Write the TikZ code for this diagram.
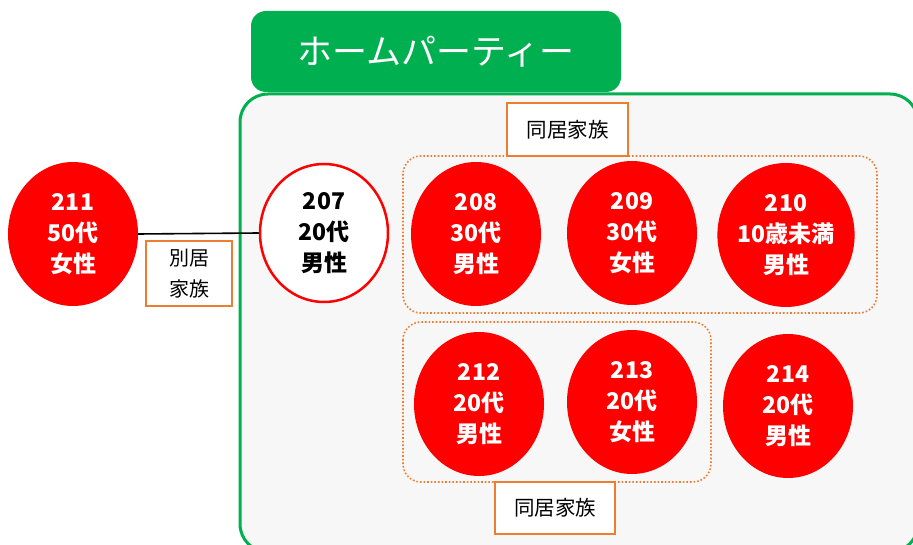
\documentclass[tikz,border=0pt]{standalone}
\usepackage{fontspec}
\setmainfont{Noto Sans CJK JP}
\usetikzlibrary{shapes.geometric}
\begin{document}
\begin{tikzpicture}[x=1pt,y=-1pt,
  pgreen/.style={draw=grn,line width=3pt,fill=panel,rounded corners=28pt},
  person/.style={ellipse,fill=pred,minimum width=130pt,minimum height=144pt,inner sep=0pt,
    text=white,font=\bfseries\fontsize{23}{31}\selectfont,align=center},
  fambox/.style={draw=org,line width=1.3pt,fill=white,inner sep=0pt,
    font=\fontsize{20.5}{28}\selectfont,align=center},
  famgroup/.style={draw=org,line width=1.6pt,dotted,rounded corners=18pt}]
\definecolor{grn}{HTML}{00B050}
\definecolor{panel}{HTML}{F7F7F7}
\definecolor{pred}{HTML}{FF0000}
\definecolor{org}{HTML}{ED7D31}
\useasboundingbox (0,0) rectangle (913,545);
\clip (0,0) rectangle (913,545);
\fill[white] (0,0) rectangle (913,545);
% panel
\draw[pgreen] (240,94) rectangle (918,552);
% title
\node[fill=grn,rounded corners=15pt,minimum width=370pt,minimum height=81pt,inner sep=0pt,
  text=white,font=\fontsize{35}{40}\selectfont] (title) at (436,51.5) {ホームパーティー};
% groups
\draw[famgroup] (403,156) rectangle (877,313);
\draw[famgroup] (403,322) rectangle (711,482);
% persons
\node[person] (p211) at (73,234) {211\\50代\\女性};
\node[person,fill=white,draw=pred,line width=2.5pt,text=black,minimum width=128pt,minimum height=138pt] (p207) at (324,233) {207\\20代\\男性};
\node[person] (p208) at (476,234) {208\\30代\\男性};
\node[person] (p209) at (632,233) {209\\30代\\女性};
\node[person] (p210) at (786,235) {210\\10歳未満\\男性};
\node[person] (p212) at (479,404) {212\\20代\\男性};
\node[person] (p213) at (632,402) {213\\20代\\女性};
\node[person] (p214) at (788,406) {214\\20代\\男性};
% connector
\draw[line width=1.6pt] (p211.east) -- (p207.west);
% labels
\node[fambox,minimum width=86pt,minimum height=65pt,font=\fontsize{20}{31}\selectfont] (bk) at (189,273.5) {別居\\家族};
\node[fambox,minimum width=121pt,minimum height=53pt] (dk1) at (567.5,129.5) {同居家族};
\node[fambox,minimum width=120pt,minimum height=52pt] (dk2) at (555,508) {同居家族};
\end{tikzpicture}
\end{document}
